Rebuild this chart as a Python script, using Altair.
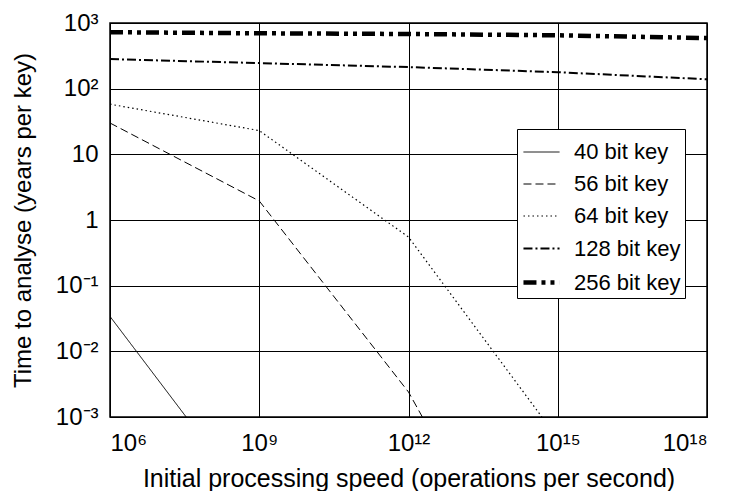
import math
import altair as alt
import pandas as pd

keys = ["40 bit key", "56 bit key", "64 bit key", "128 bit key", "256 bit key"]

speed_40 = [1e6, 3.4e7]
time_40 = [0.034, 0.001]
speed_56 = [1e6, 1e9, 1e12, 1.9e12]
time_56 = [30, 1.95, 0.0024, 0.001]
speed_64 = [1e6, 1e9, 1e12, 4.8e14]
time_64 = [58, 23, 0.55, 0.001]
speed_128 = [1e6, 1e9, 1e12, 1e15, 1e18]
time_128 = [282, 245, 213, 178, 139]
speed_256 = [1e6, 1e9, 1e12, 1e15, 1e18]
time_256 = [724, 697, 680, 650, 590]

x_ticks = [1e6, 1e9, 1e12, 1e15, 1e18]
x_labels = ["10⁶", "10⁹", "10¹²", "10¹⁵", "10¹⁸"]
y_ticks = [1e-3, 1e-2, 1e-1, 1, 10, 1e2, 1e3]
y_labels = ["10⁻³", "10⁻²", "10⁻¹", "1", "10", "10²", "10³"]

dash_styles = [[1, 0], [8, 4], [1.5, 3], [9, 3, 2, 3], [13, 5, 4, 5, 4, 5]]
line_widths = [1, 1, 1.2, 2, 4.5]

rows = []
for k, xs, ys in zip(keys, [speed_40, speed_56, speed_64, speed_128, speed_256],
                     [time_40, time_56, time_64, time_128, time_256]):
    for i, (a, b) in enumerate(zip(xs, ys)):
        rows.append({"key": k, "speed": a, "time": b, "order": i})
df = pd.DataFrame(rows)


def label_expr(ticks, labels):
    expr = "''"
    for t, l in zip(ticks, labels):
        expr = f"abs(log(datum.value)/LN10 - ({math.log10(t)})) < 0.01 ? '{l}' : ({expr})"
    return expr


FONT = "Liberation Sans"
NBSP = "\u00a0"

legend = alt.Legend(title=None, orient="none", legendX=407, legendY=106,
                    symbolType="stroke", symbolSize=1300,
                    strokeColor="black", fillColor="white", padding=4,
                    labelFontSize=22, labelFont=FONT, rowPadding=2,
                    labelOffset=12, labelExpr=f"datum.label + '{NBSP * 3}'",
                    labelColor="black", symbolStrokeColor="black")

chart = alt.Chart(df).mark_line(clip=True).encode(
    x=alt.X("speed:Q",
            scale=alt.Scale(type="log", domain=[1e6, 1e18], nice=False),
            axis=alt.Axis(values=x_ticks, labelExpr=label_expr(x_ticks, x_labels),
                          title="Initial processing speed (operations per second)",
                          grid=True, ticks=False, domainColor="black",
                          labelPadding=14, titlePadding=11,
                          labelFontSize=24, titleFontSize=25)),
    y=alt.Y("time:Q",
            scale=alt.Scale(type="log", domain=[1e-3, 1e3], nice=False),
            axis=alt.Axis(values=y_ticks, labelExpr=label_expr(y_ticks, y_labels),
                          title="Time to analyse (years per key)",
                          grid=True, ticks=False, domainColor="black",
                          labelPadding=12, titlePadding=20,
                          labelFontSize=24, titleFontSize=24)),
    order="order:Q",
    strokeDash=alt.StrokeDash("key:O", sort=keys,
                              scale=alt.Scale(type="ordinal", domain=keys, range=dash_styles),
                              legend=legend),
    strokeWidth=alt.StrokeWidth("key:O", sort=keys,
                                scale=alt.Scale(type="ordinal", domain=keys, range=line_widths),
                                legend=legend),
    color=alt.value("black"),
).properties(
    width=597, height=394,
    autosize=alt.AutoSizeParams(type="none"),
    padding={"left": 102, "top": 15, "right": 19, "bottom": 74},
).configure_axis(
    gridColor="black", gridWidth=1, gridOpacity=1,
    labelFont=FONT, titleFont=FONT,
    labelColor="black", titleColor="black", titleFontWeight="normal",
).configure_view(
    stroke="black", strokeWidth=1.5,
)

chart.save("out.html", embed_options={"renderer": "svg", "actions": False})
